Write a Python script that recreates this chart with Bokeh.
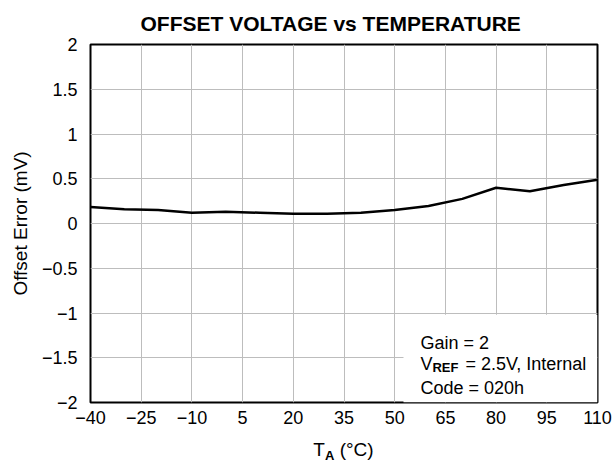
from bokeh.plotting import figure
from bokeh.models import FixedTicker, Label, Div
from bokeh.layouts import column
from bokeh.embed import file_html
from bokeh.resources import INLINE

# ---- data ----
temperature = [-40, -30, -20, -10, 0, 10, 20, 30, 40, 50, 60, 70, 80, 90, 100, 110]
offset_error = [0.185, 0.16, 0.15, 0.12, 0.13, 0.12, 0.11, 0.11, 0.12, 0.15, 0.195, 0.275, 0.40, 0.36, 0.43, 0.49]

x_ticks = [-40, -25, -10, 5, 20, 35, 50, 65, 80, 95, 110]
y_ticks = [-2, -1.5, -1, -0.5, 0, 0.5, 1, 1.5, 2]

title_text = "OFFSET VOLTAGE vs TEMPERATURE"
y_label = "Offset Error (mV)"
note_lines = ["Gain = 2", "Code = 020h"]

FONT = "Liberation Sans"

def fmt(v):
    s = ("%g" % v)
    return s.replace("-", "\u2212")

p = figure(width=613, height=440, x_range=(-40, 110), y_range=(-2, 2),
           output_backend="svg", toolbar_location=None,
           min_border_left=90, min_border_right=16, min_border_top=43, min_border_bottom=38)

p.background_fill_color = "white"
p.border_fill_color = "white"
p.outline_line_color = "black"
p.outline_line_width = 2

p.title.text = title_text
p.title.text_font = FONT
p.title.text_font_size = "21px"
p.title.text_font_style = "bold"
p.title.text_color = "black"
p.title.align = "left"
p.title.offset = 50
p.title.standoff = 19

for ax in (p.xaxis[0], p.yaxis[0]):
    ax.axis_line_color = None
    ax.major_tick_line_color = None
    ax.minor_tick_line_color = None
    ax.major_label_text_font = FONT
    ax.major_label_text_font_size = "18px"
    ax.major_label_text_color = "black"

p.xaxis.ticker = FixedTicker(ticks=x_ticks)
p.yaxis.ticker = FixedTicker(ticks=y_ticks)
p.xaxis.major_label_overrides = {t: fmt(t) for t in x_ticks}
p.yaxis.major_label_overrides = {t: fmt(t) for t in y_ticks}
p.xaxis.major_label_standoff = 2
p.yaxis.major_label_standoff = 7

p.yaxis.axis_label = y_label
p.yaxis.axis_label_text_font = FONT
p.yaxis.axis_label_text_font_size = "19px"
p.yaxis.axis_label_text_font_style = "normal"
p.yaxis.axis_label_text_color = "black"
p.yaxis.axis_label_standoff = 8

p.xgrid.ticker = FixedTicker(ticks=x_ticks)
p.ygrid.ticker = FixedTicker(ticks=y_ticks)
for g in (p.xgrid[0], p.ygrid[0]):
    g.grid_line_color = "#bdbdbd"
    g.grid_line_width = 1

# white box for the note (covers grid)
p.quad(left=[52.6], right=[110], bottom=[-2], top=[-1.02], fill_color="white", line_color=None)

p.line(temperature, offset_error, line_color="black", line_width=2.5)

def lab(x, y, text, size, bold=False, xo=0, yo=0):
    p.add_layout(Label(x=x, y=y, x_units="data", y_units="data", text=text,
                       x_offset=xo, y_offset=yo,
                       text_font=FONT, text_font_size=size,
                       text_font_style="bold" if bold else "normal",
                       text_color="black", text_align="left", text_baseline="alphabetic"))

# note box text
nx = 57.6
lab(nx, -1.331, note_lines[0], "18px")
lab(nx, -1.565, "V", "18px")
lab(nx, -1.565, "REF", "13px", bold=True, xo=12, yo=-4)
lab(nx, -1.565, "= 2.5V, Internal", "18px", xo=45)
lab(nx, -1.833, note_lines[1], "18px")

# x axis title: T_A (°C)
xlabel = Div(
    text='T<span style="font-size:13px;font-weight:bold;position:relative;top:4px;">A</span> (\u00b0C)',
    width=507, height=22, margin=(0, 0, 0, 90),
    styles={"font-family": "'Liberation Sans'", "font-size": "19px", "line-height": "19px",
            "color": "black", "text-align": "center", "white-space": "nowrap"},
)

layout = column(p, xlabel, spacing=0)

open("out.html", "w").write(file_html(layout, INLINE))
